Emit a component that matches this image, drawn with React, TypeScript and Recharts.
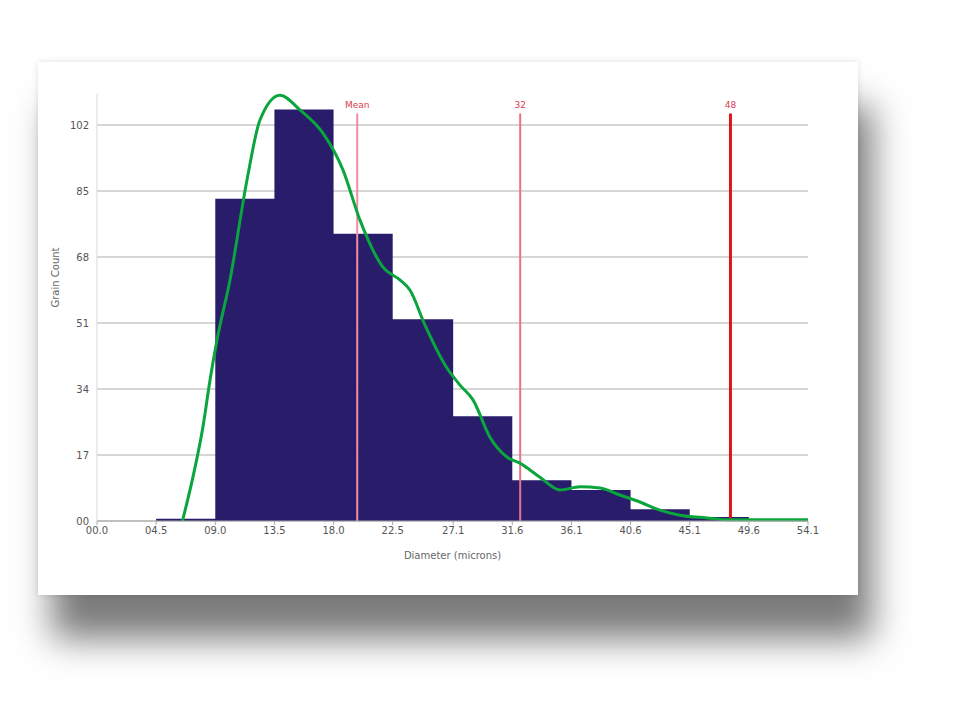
import React from "react";
import {
  ComposedChart,
  Area,
  Line,
  XAxis,
  YAxis,
  CartesianGrid,
  ReferenceLine,
} from "recharts";

// Tick labels
const xTicks = [0, 4.5, 9.0, 13.5, 18.0, 22.5, 27.1, 31.6, 36.1, 40.6, 45.1, 49.6, 54.1];
const yTicks = [0, 17, 34, 51, 68, 85, 102];

// Histogram bins (start of each bin) and counts
const binStarts = [4.5, 9.0, 13.5, 18.0, 22.5, 27.1, 31.6, 36.1, 40.6, 45.1, 49.6];
const binEnd = 54.1;
const binCounts = [0.6, 83, 106, 74, 52, 27, 10.5, 8, 3, 1, 0.5];

// Density curve (scaled to counts)
const curveX = [6.5, 7.3, 8.06, 8.6, 9.13, 10.12, 11.41, 12.4, 13.92, 15.44, 17.19, 18.72, 20.01, 21.76, 23.05, 23.81, 24.95, 26.48, 27.62, 28.61, 29.9, 31.19, 32.18, 33.7, 35.23, 36.75, 38.27, 39.79, 41.31, 42.83, 44.35, 46.41, 48.16, 54.1];
const curveY = [0, 11.3, 24.2, 36.3, 46.6, 62.1, 87.8, 103.3, 109.7, 105.9, 99.9, 90.4, 77.5, 65.4, 62.1, 59.5, 50.5, 40.2, 35.0, 31.2, 21.6, 16.5, 14.9, 11.3, 8.0, 8.8, 8.5, 6.7, 4.9, 2.8, 1.5, 0.8, 0.3, 0.3];

// Marker lines
const markerX = [19.8, 32.2, 48.2];
const markerLabels = ["Mean", "32", "48"];
const markerTop = 105;

const histData = [
  ...binStarts.map((x, i) => ({ x, count: binCounts[i] })),
  { x: binEnd, count: binCounts[binCounts.length - 1] },
];
const curveData = curveX.map((x, i) => ({ x, density: curveY[i] }));

const markerStyles = [
  { stroke: "#f28ca2", width: 2 },
  { stroke: "#ea7189", width: 2 },
  { stroke: "#dd1515", width: 3 },
];

const fmtX = (v: number) => {
  const s = v.toFixed(1);
  return v < 10 ? "0" + s : s;
};
const fmtY = (v: number) => (v === 0 ? "00" : String(v));

export default function App() {
  return (
    <div
      style={{
        position: "absolute",
        left: 0,
        top: 0,
        width: 960,
        height: 720,
        background: "#ffffff",
        overflow: "hidden",
        fontFamily: "'DejaVu Sans', Arial, sans-serif",
      }}
    >
      <div
        style={{
          position: "absolute",
          left: 38,
          top: 62,
          width: 820,
          height: 533,
          background: "#ffffff",
          boxShadow: "14px 44px 34px 0 rgba(0,0,0,0.52), 0 0 6px rgba(0,0,0,0.12)",
        }}
      />
      <div style={{ position: "absolute", left: 0, top: 0 }}>
        <ComposedChart
          width={960}
          height={720}
          margin={{ top: 94, right: 152, bottom: 169, left: 57 }}
        >
          <CartesianGrid
            vertical={false}
            horizontalValues={yTicks}
            stroke="#c9c9c9"
            strokeWidth={1.5}
          />
          <XAxis
            type="number"
            dataKey="x"
            domain={[0, 54.1]}
            ticks={xTicks}
            tickFormatter={fmtX}
            allowDuplicatedCategory={false}
            height={30}
            stroke="#aaaaaa"
            tickSize={4}
            tick={{ fill: "#555555", fontSize: 10 }}
            label={{
              value: "Diameter (microns)",
              position: "insideBottom",
              offset: -8,
              fill: "#666666",
              fontSize: 10,
            }}
          />
          <YAxis
            type="number"
            domain={[0, 110]}
            ticks={yTicks}
            tickFormatter={fmtY}
            width={40}
            stroke="#d8d8d8"
            tickLine={false}
            tick={{ fill: "#555555", fontSize: 10 }}
            label={{
              value: "Grain Count",
              angle: -90,
              position: "insideLeft",
              offset: -2,
              fill: "#666666",
              fontSize: 10,
            }}
          />
          <Area
            data={histData}
            dataKey="count"
            type="stepAfter"
            fill="#211566"
            fillOpacity={0.97}
            stroke="none"
            baseValue={0}
            isAnimationActive={false}
          />
          {markerX.map((mx, i) => (
            <ReferenceLine
              key={i}
              segment={[
                { x: mx, y: 0 },
                { x: mx, y: markerTop },
              ]}
              stroke={markerStyles[i].stroke}
              strokeWidth={markerStyles[i].width}
              label={{
                value: markerLabels[i],
                position: "top",
                fill: "#d83c55",
                fontSize: 9,
              }}
            />
          ))}
          <Line
            data={curveData}
            dataKey="density"
            type="monotone"
            stroke="#0aa53c"
            strokeWidth={3}
            dot={false}
            isAnimationActive={false}
          />
        </ComposedChart>
      </div>
    </div>
  );
}
